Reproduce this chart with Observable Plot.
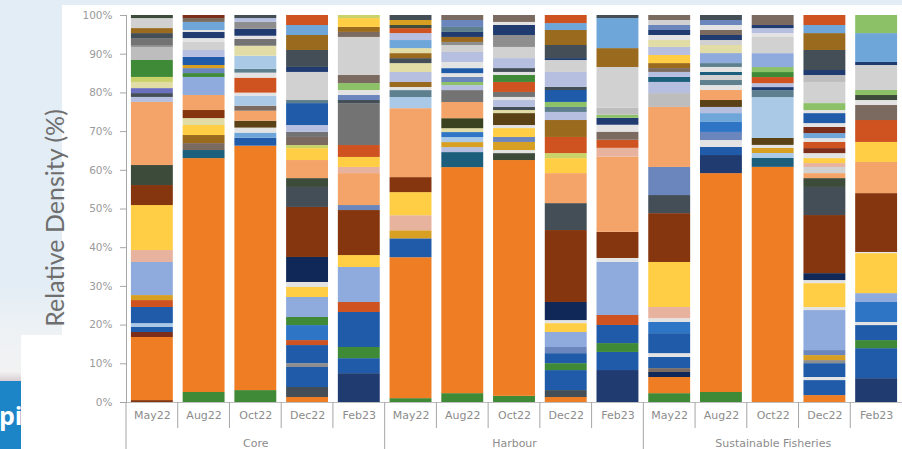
<!DOCTYPE html>
<html><head><meta charset="utf-8">
<script src="https://cdn.jsdelivr.net/npm/d3@7"></script>
<script src="https://cdn.jsdelivr.net/npm/@observablehq/plot@0.6"></script>
<style>
html,body{margin:0;padding:0;width:902px;height:449px;overflow:hidden;background:#fff;}
#topstrip{position:absolute;left:0;top:0;width:902px;height:5px;background:#E3EDF5;}
#leftpanel{position:absolute;left:0;top:0;width:62px;height:335px;background:linear-gradient(#E3EDF5 85%,#EEF2F5);}
#fade{position:absolute;left:0;top:335px;width:21px;height:46px;background:linear-gradient(#EEF2F5,#F2F2F2 80%,#D9CDD2);}
#logo{position:absolute;left:0;top:381px;width:21px;height:68px;background:#1B85C8;overflow:hidden;}
#logo span{position:absolute;left:-1px;top:22px;color:#fff;font:bold 25px 'Open Sans',sans-serif;line-height:1;}
#chart{position:absolute;left:0;top:0;}
</style></head><body>
<div id="topstrip"></div><div id="leftpanel"></div><div id="fade"></div>
<div id="logo"><span>pi</span></div>
<div id="chart"></div>
<script>
// ---------- categories & ticks ----------
const months = ["May22", "Aug22", "Oct22", "Dec22", "Feb23"];
const sites = ["Core", "Harbour", "Sustainable Fisheries"];
const yTicks = [0, 10, 20, 30, 40, 50, 60, 70, 80, 90, 100];
const yTitle = "Relative Density (%)";

// ---------- taxa (series) and their colours ----------
const taxa = ["OR","PE","BR","DG","YE","LB","BL","BB","NV","DN","GR","LG","OX","GD","LGY","GY","SB","LBL","PL","PK","GO","OL","TE","GB","LV","GBR","DGG","LY","DBR","GT","DO","SI","PU","YG","MG"];
const taxonColors = ["#EE7D24","#F5A469","#86360F","#434E57","#FFCE44","#8FAADC","#1F5BA8","#2E75C6","#1F3B70","#0F2857","#3F8A37","#8CC168","#CF5320","#9A6A1F","#D1D1D1","#737373","#A9C9E6","#6EA6DA","#E3E3E3","#E7B29E","#D8A023","#5A4216","#1C5F7C","#6A86BC","#B6BFDF","#7B6A5F","#3D4B3B","#E2DDA6","#7C2E1B","#5E7F8E","#3B4221","#BDBDBD","#6B6FC0","#C9D36A","#8E8E8E"];

// ---------- relative density per bar, bottom to top: [taxon, %] ----------
const core_May22 = [["BR",0.5],["OR",16.4],["DBR",1.3],["BL",1.3],["SB",1.0],["BL",4.2],["OX",1.8],["GO",1.3],["LB",8.6],["PK",3.1],["YE",11.7],["BR",5.2],["DGG",5.2],["PE",16.4],["LV",1.3],["DG",1.0],["PU",1.3],["LY",1.6],["YG",1.3],["GR",4.4],["SI",3.4],["MG",0.5],["GY",1.8],["DG",1.3],["GD",1.3],["LGY",2.6],["DGG",0.8]];
const core_Aug22 = [["GR",2.6],["OR",60.8],["TE",2.1],["GBR",1.8],["GD",2.1],["YE",2.6],["LY",1.8],["BR",2.1],["PE",3.9],["LB",4.7],["GR",1.0],["GB",1.3],["GO",0.8],["BL",2.1],["LV",1.8],["LGY",2.1],["PL",1.0],["NV",1.6],["PL",0.5],["LBL",2.1],["GBR",1.0],["DBR",0.8]];
const core_Oct22 = [["GR",3.1],["OR",63.6],["BL",2.1],["LBL",1.3],["PL",1.3],["OL",1.8],["PE",2.6],["GBR",1.3],["SB",2.6],["PL",0.8],["OX",3.9],["PL",1.3],["GT",1.0],["SB",3.4],["LY",2.6],["GY",1.8],["PL",0.8],["NV",1.8],["MG",1.8],["LV",1.0],["DG",0.8]];
const core_Dec22 = [["OR",1.3],["DG",2.6],["BL",5.2],["MG",1.0],["BL",4.7],["OX",1.3],["BB",3.9],["GR",2.1],["LB",5.2],["YE",2.6],["PL",1.3],["DN",6.5],["BR",13.0],["DG",5.2],["DGG",2.3],["PE",4.7],["YE",3.1],["YG",0.8],["GBR",2.1],["GY",1.3],["LV",1.8],["BL",5.7],["GT",0.8],["LGY",7.3],["NV",1.3],["DG",4.4],["GD",3.9],["LBL",2.6],["OX",2.6]];
const core_Feb23 = [["NV",7.5],["BL",3.9],["GR",2.9],["BL",9.1],["OX",2.6],["LB",9.1],["YE",3.1],["BR",11.7],["GB",1.3],["PE",8.3],["PK",1.6],["YE",2.6],["OX",3.1],["GY",10.9],["DG",0.8],["GB",1.3],["PL",1.3],["LG",1.8],["GBR",2.1],["LGY",9.9],["GBR",1.3],["GD",1.3],["YE",2.3],["YG",0.8]];
const harbour_May22 = [["GR",1.0],["OR",36.6],["BL",4.9],["GO",2.1],["PK",3.9],["YE",6.0],["BR",3.9],["PE",17.9],["SB",2.9],["GT",1.8],["PL",0.8],["GD",1.3],["LV",2.6],["LY",2.3],["DG",1.3],["GD",1.3],["LY",1.3],["LBL",2.1],["LV",1.8],["OX",1.3],["DGG",0.8],["GO",1.3],["DG",1.3]];
const harbour_Aug22 = [["GR",2.3],["OR",58.7],["TE",3.9],["LV",1.3],["GO",1.3],["SB",1.3],["BB",1.3],["LY",1.0],["DO",2.6],["PE",4.2],["GY",3.1],["LV",1.3],["LG",0.8],["GB",1.3],["PL",1.0],["BL",1.3],["PL",1.6],["LV",2.6],["LGY",1.8],["MG",0.8],["GD",1.3],["NV",1.3],["GT",1.3],["GB",1.8],["GBR",1.3]];
const harbour_Oct22 = [["GR",1.6],["OR",61.3],["DGG",1.8],["PL",0.8],["GO",2.1],["GB",1.3],["YE",2.3],["PL",0.8],["OL",3.1],["LY",0.8],["DG",0.8],["LV",1.8],["PL",0.8],["GY",1.3],["OX",2.6],["GR",1.8],["PL",0.8],["DG",1.0],["LV",2.6],["LGY",2.9],["MG",3.1],["NV",2.6],["PL",0.8],["GBR",1.8]];
const harbour_Dec22 = [["OR",1.3],["DG",1.8],["BL",5.2],["GR",1.8],["BL",2.6],["GB",1.6],["LB",3.9],["YE",2.3],["PL",0.8],["DN",4.7],["BR",18.7],["DG",7.0],["PE",7.8],["YE",3.9],["YG",1.3],["OX",4.2],["GD",4.4],["LV",2.1],["GT",1.3],["LG",1.3],["BL",3.1],["DG",0.8],["LV",3.9],["LGY",3.1],["NV",0.5],["DG",3.4],["GD",3.9],["LBL",1.8],["OX",2.1]];
const harbour_Feb23 = [["NV",8.3],["BL",4.7],["GR",2.3],["BL",4.7],["OX",2.6],["LB",13.8],["PL",1.0],["BR",6.8],["PE",19.5],["PK",2.3],["OX",2.1],["GBR",2.1],["PL",1.8],["NV",1.8],["LG",0.8],["SI",1.8],["LGY",10.6],["GD",4.9],["LBL",7.8],["DG",0.8]];
const fisheries_May22 = [["GR",2.3],["OR",4.2],["DN",1.3],["GBR",1.0],["BL",2.9],["PL",1.0],["BL",5.2],["BB",2.9],["PL",1.0],["PK",2.9],["YE",11.7],["BR",12.7],["DG",4.7],["GB",7.3],["PE",15.6],["SI",3.6],["LV",2.9],["TE",1.3],["LV",1.3],["GBR",1.0],["GD",1.3],["YE",2.1],["LV",2.1],["LY",1.8],["PL",1.3],["NV",1.3],["GB",1.3],["LGY",1.3],["GBR",1.3]];
const fisheries_Aug22 = [["GR",2.6],["OR",56.9],["NV",4.7],["BL",2.1],["PL",1.8],["GB",2.1],["BB",2.6],["LBL",2.3],["LV",1.6],["OL",1.8],["PE",2.6],["PL",1.3],["GT",1.3],["LGY",1.3],["TE",0.8],["PL",1.3],["GT",1.0],["LB",2.6],["LY",2.1],["LGY",1.3],["NV",1.3],["GBR",1.3],["PL",1.3],["GB",1.3],["DG",1.3]];
const fisheries_Oct22 = [["OR",61.0],["TE",2.3],["SB",1.3],["GO",1.3],["PL",0.8],["OL",1.8],["SB",10.6],["GT",1.8],["NV",0.8],["LV",1.0],["OX",1.6],["GR",1.3],["LG",1.3],["LB",3.6],["LGY",4.2],["PL",1.0],["LV",1.3],["NV",0.8],["GBR",2.6]];
const fisheries_Dec22 = [["OR",1.8],["BL",3.9],["PL",0.8],["BL",3.6],["MG",0.8],["GO",1.3],["GB",1.3],["LB",10.4],["PL",0.8],["YE",6.2],["PL",0.8],["DN",1.8],["BR",15.1],["DG",7.3],["DGG",2.3],["PE",1.3],["LGY",1.6],["PK",1.0],["YE",1.3],["PL",1.3],["DBR",1.3],["OX",1.6],["PL",1.0],["LBL",1.3],["DBR",1.6],["PL",1.0],["BL",2.6],["PL",0.8],["LG",1.8],["LGY",5.5],["SI",1.8],["NV",1.3],["DG",5.2],["GD",4.4],["LBL",2.1],["OX",2.6]];
const fisheries_Feb23 = [["NV",6.2],["BL",7.8],["GR",2.1],["BL",3.9],["PL",0.8],["BB",5.2],["LB",2.3],["YE",10.4],["PL",0.3],["BR",15.3],["PE",8.1],["YE",5.2],["OX",5.7],["GBR",3.9],["PL",1.3],["DGG",1.3],["LG",1.3],["LGY",6.5],["NV",0.8],["LBL",7.5],["LG",4.7]];

const barData = [
  [core_May22, core_Aug22, core_Oct22, core_Dec22, core_Feb23],
  [harbour_May22, harbour_Aug22, harbour_Oct22, harbour_Dec22, harbour_Feb23],
  [fisheries_May22, fisheries_Aug22, fisheries_Oct22, fisheries_Dec22, fisheries_Feb23]
];

// ---------- tidy table ----------
const rows = [];
const keys = [];
sites.forEach((site, si) => months.forEach((month, mi) => {
  const key = site + "|" + month;
  keys.push(key);
  barData[si][mi].forEach(([taxon, value]) => rows.push({key, site, month, taxon, value}));
}));

const gray = "#8c8c8c";
const plot = Plot.plot({
  width: 902, height: 449,
  marginLeft: 126, marginRight: 0, marginTop: 15, marginBottom: 47,
  style: {background: "transparent", fontFamily: "'DejaVu Sans', sans-serif", overflow: "visible"},
  x: {domain: keys, paddingInner: 0.19, paddingOuter: 0.095, round: false, axis: null},
  y: {domain: [0, 1], axis: null},
  color: {domain: taxa, range: taxonColors},
  marks: [
    Plot.barY(rows, Plot.stackY({offset: "normalize"}, {x: "key", y: "value", fill: "taxon"})),
    Plot.ruleY([0], {stroke: "#bdbdbd"}),
    Plot.frame({anchor: "left", stroke: "#a6a6a6"}),
    Plot.axisY({ticks: yTicks.map(t => t / 100), tickFormat: d => Math.round(d * 100) + "%", tickSize: 6, tickPadding: 8, fontSize: 10.5, stroke: "#a6a6a6", fill: "#9a9a9a", label: null}),
    Plot.axisX({tickFormat: k => k.split("|")[1], tickSize: 0, tickPadding: 9, fontSize: 11, fill: gray, label: null}),
    Plot.text(sites, {x: s => s + "|" + months[2], frameAnchor: "bottom", dy: 44, fontSize: 11, fill: gray}),
    Plot.text([yTitle], {frameAnchor: "left", textAnchor: "middle", rotate: -90, dx: -71, dy: 9, fontSize: 25, fill: "#6e6e6e", fontFamily: "Lato, sans-serif"})
  ]
});

// separators of the category axis, placed through the x scale
const xs = plot.scale("x"), ys = plot.scale("y");
const y0 = ys.apply(0);
const gap = (xs.step - xs.bandwidth) / 2;
d3.select(plot).append("g")
  .selectAll("line").data(xs.domain).join("line")
  .attr("x1", k => xs.apply(k) - gap).attr("x2", k => xs.apply(k) - gap)
  .attr("y1", y0).attr("y2", (k, i) => i % months.length === 0 ? 449 : y0 + 26)
  .attr("stroke", "#a6a6a6").attr("stroke-width", 1);

document.getElementById("chart").appendChild(plot);
</script></body></html>
